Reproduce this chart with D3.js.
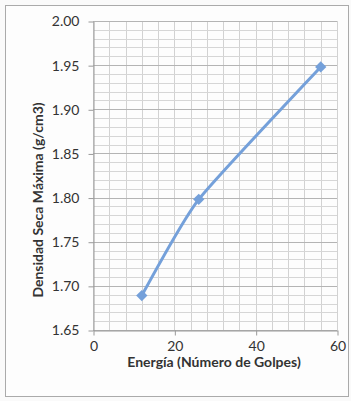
<!DOCTYPE html>
<html><head><meta charset="utf-8">
<script src="https://cdn.jsdelivr.net/npm/d3@7"></script>
<style>body{margin:0;background:#fff}svg{display:block}</style>
</head><body>
<script>
const golpes = [12, 26, 56];
const densidad = [1.689, 1.798, 1.948];
const xTicks = [0, 20, 40, 60];
const yTicks = [1.65, 1.70, 1.75, 1.80, 1.85, 1.90, 1.95, 2.00];
const xTitle = "Energía (Número de Golpes)";
const yTitle = "Densidad Seca Máxima (g/cm3)";

const W = 351, H = 401;
const m = {l: 93, r: 14, t: 21, b: 71};
const svg = d3.select("body").append("svg").attr("width", W).attr("height", H);
svg.append("rect").attr("width", W).attr("height", H).attr("fill", "#fafafa");
svg.append("rect").attr("x", 5.5).attr("y", 5.5).attr("width", 343).attr("height", 391)
  .attr("fill", "#fdfdfd").attr("stroke", "#aaa");

const x = d3.scaleLinear().domain([0, 60]).range([m.l, W - m.r]);
const y = d3.scaleLinear().domain([1.65, 2.00]).range([H - m.b, m.t]);
const font = "Lato, 'Open Sans', sans-serif";

// minor grid
const g = svg.append("g");
g.selectAll(".vx").data(d3.range(0, 61, 4)).join("line")
  .attr("x1", d => Math.round(x(d)) + 0.5).attr("x2", d => Math.round(x(d)) + 0.5)
  .attr("y1", y(2.00)).attr("y2", y(1.65))
  .attr("stroke", "#d2d2d2").attr("stroke-width", 1);
g.selectAll(".hy").data(d3.range(0, 36).map(i => 1.65 + i * 0.01)).join("line")
  .attr("y1", d => Math.round(y(d)) + 0.5).attr("y2", d => Math.round(y(d)) + 0.5)
  .attr("x1", x(0)).attr("x2", x(60))
  .attr("stroke", "#d6d6d6").attr("stroke-width", 1);
// major grid (horizontal)
g.selectAll(".my").data(yTicks).join("line")
  .attr("y1", d => Math.round(y(d)) + 0.5).attr("y2", d => Math.round(y(d)) + 0.5)
  .attr("x1", x(0)).attr("x2", x(60))
  .attr("stroke", "#b4b4b4").attr("stroke-width", 1);

// axes
const xAxis = svg.append("g").attr("transform", `translate(0.5,${Math.round(y(1.65)) + 0.5})`)
  .call(d3.axisBottom(x).tickValues(xTicks).tickSize(5).tickSizeOuter(0).tickPadding(6));
const yAxis = svg.append("g").attr("transform", `translate(${x(0) + 0.5},0.5)`)
  .call(d3.axisLeft(y).tickValues(yTicks).tickFormat(d3.format(".2f")).tickSize(5).tickSizeOuter(0).tickPadding(9));
[xAxis, yAxis].forEach(a => {
  a.select(".domain").attr("stroke", "#999");
  a.selectAll(".tick line").attr("stroke", "#999");
  a.selectAll("text").attr("font-family", font).attr("font-size", 14).attr("fill", "#333");
});

// line
const pts = golpes.map((d, i) => [d, densidad[i]]);
svg.append("path").datum(pts)
  .attr("d", d3.line().x(d => x(d[0])).y(d => y(d[1])).curve(d3.curveCardinal.tension(0.5)))
  .attr("fill", "none").attr("stroke", "#74a0da").attr("stroke-width", 3);
svg.selectAll(".pt").data(pts).join("path")
  .attr("transform", d => `translate(${x(d[0])},${y(d[1])}) rotate(45)`)
  .attr("d", "M-4,-4H4V4H-4Z").attr("fill", "#74a0da");

// titles
svg.append("text").attr("x", 214).attr("y", 367).attr("text-anchor", "middle")
  .attr("font-family", font).attr("font-weight", "bold").attr("font-size", 14).attr("fill", "#333")
  .text(xTitle);
svg.append("text").attr("transform", `translate(43,200) rotate(-90)`).attr("text-anchor", "middle")
  .attr("font-family", font).attr("font-weight", "bold").attr("font-size", 14).attr("fill", "#333")
  .text(yTitle);
</script>
</body></html>
